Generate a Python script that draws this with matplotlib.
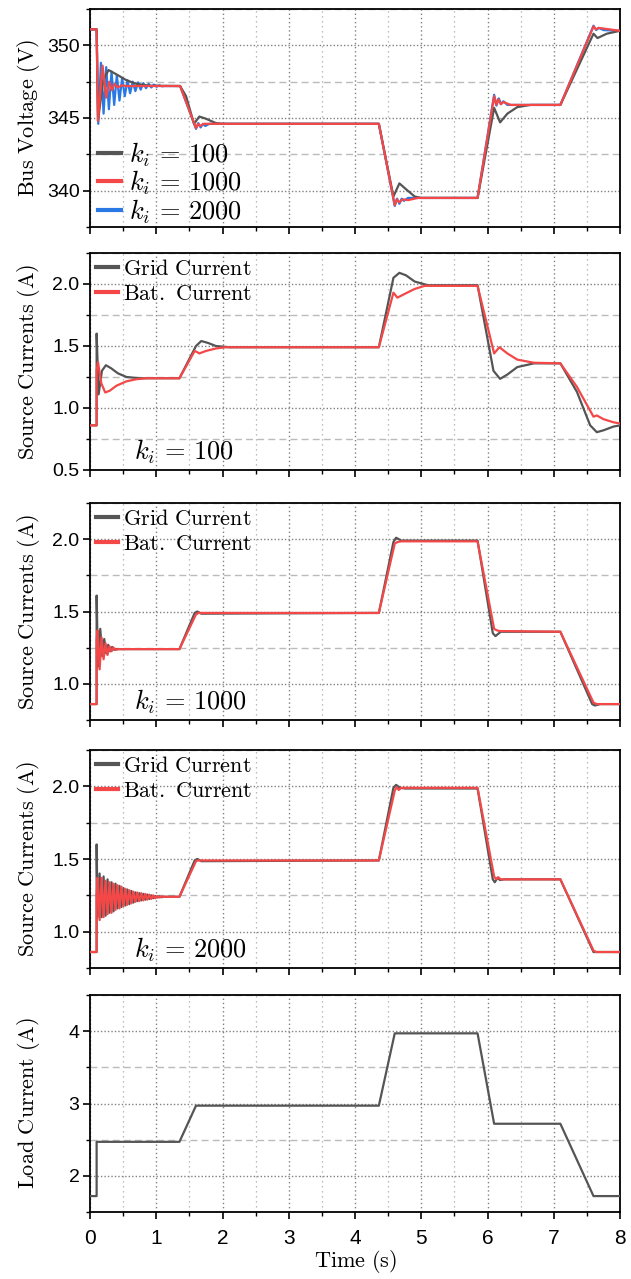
import numpy as np
import matplotlib
matplotlib.use("Agg")
import matplotlib.pyplot as plt
from matplotlib.ticker import MultipleLocator, FormatStrFormatter
from matplotlib.lines import Line2D

plt.rcParams['mathtext.fontset'] = 'cm'
plt.rcParams['font.family'] = ['Liberation Sans', 'DejaVu Sans']

# ---------------- data (time s, value) ----------------
# Bus voltage (V)
v_100 = [(0, 351.1), (0.1, 351.1), (0.12, 344.8), (0.2, 347.6), (0.28, 348.3), (0.4, 348.0),
         (0.55, 347.6), (0.7, 347.35), (0.9, 347.22), (1.36, 347.2), (1.45, 346.5), (1.57, 344.6),
         (1.65, 345.1), (1.75, 344.95), (1.9, 344.65), (2.0, 344.6), (4.36, 344.6), (4.58, 339.6),
         (4.67, 340.5), (4.77, 340.1), (4.9, 339.6), (5.0, 339.5), (5.85, 339.5), (6.1, 345.7),
         (6.19, 344.7), (6.3, 345.3), (6.45, 345.75), (6.65, 345.9), (7.1, 345.9), (7.6, 350.8),
         (7.66, 350.5), (7.8, 350.8), (8.0, 351.0)]
v_1000 = [(0, 351.1), (0.1, 351.1), (0.12, 344.8), (0.19, 348.6), (0.245, 346.4), (0.29, 347.5),
          (0.33, 346.9), (0.37, 347.35), (0.42, 347.1), (0.48, 347.25), (0.55, 347.2), (1.36, 347.2),
          (1.6, 344.3), (1.63, 344.6), (1.66, 344.45), (1.72, 344.6), (4.36, 344.6), (4.6, 339.0),
          (4.63, 339.4), (4.67, 339.2), (4.72, 339.4), (4.8, 339.35), (4.95, 339.5), (5.85, 339.5),
          (6.1, 346.5), (6.13, 345.9), (6.16, 346.3), (6.2, 345.95), (6.24, 346.1), (6.35, 345.9),
          (7.1, 345.9), (7.6, 351.3), (7.64, 351.1), (7.68, 351.2), (8.0, 351.0)]
v_2000 = [(0, 351.1), (0.1, 351.1), (0.125, 344.6), (0.165, 348.8), (0.205, 345.3), (0.245, 348.5),
          (0.285, 345.6), (0.325, 348.2), (0.365, 345.9), (0.405, 347.95), (0.445, 346.2),
          (0.485, 347.75), (0.525, 346.5), (0.565, 347.6), (0.605, 346.7), (0.645, 347.5),
          (0.685, 346.85), (0.725, 347.45), (0.765, 346.95), (0.805, 347.4), (0.845, 347.05),
          (0.885, 347.35), (0.925, 347.1), (0.965, 347.3), (1.005, 347.15), (1.045, 347.25),
          (1.085, 347.18), (1.13, 347.2), (1.36, 347.2), (1.6, 344.25), (1.635, 344.65),
          (1.67, 344.35), (1.705, 344.6), (1.74, 344.45), (1.8, 344.6), (4.36, 344.6), (4.6, 338.95),
          (4.635, 339.45), (4.67, 339.1), (4.705, 339.45), (4.74, 339.3), (4.8, 339.5), (5.85, 339.5),
          (6.1, 346.6), (6.135, 345.85), (6.17, 346.35), (6.205, 345.95), (6.24, 346.15), (6.3, 345.9),
          (7.1, 345.9), (7.6, 351.35), (7.64, 351.05), (7.68, 351.2), (7.75, 351.05), (8.0, 351.0)]

# Source currents (A), k_i = 100
grid_100 = [(0, 0.86), (0.1, 0.86), (0.1, 1.60), (0.13, 1.11), (0.18, 1.30), (0.24, 1.345),
            (0.32, 1.32), (0.42, 1.28), (0.55, 1.25), (0.75, 1.24), (1.35, 1.24), (1.6, 1.50),
            (1.68, 1.54), (1.78, 1.525), (1.9, 1.50), (2.1, 1.49), (4.36, 1.49), (4.58, 2.05),
            (4.67, 2.09), (4.77, 2.07), (4.9, 2.02), (5.1, 1.99), (5.85, 1.99), (6.09, 1.30),
            (6.19, 1.235), (6.3, 1.27), (6.45, 1.33), (6.7, 1.36), (7.1, 1.36), (7.35, 1.13),
            (7.55, 0.86), (7.65, 0.805), (7.75, 0.82), (7.9, 0.85), (8.0, 0.86)]
bat_100 = [(0, 0.86), (0.1, 0.86), (0.1, 1.30), (0.12, 1.37), (0.17, 1.20), (0.23, 1.125),
           (0.3, 1.14), (0.4, 1.18), (0.55, 1.215), (0.7, 1.232), (0.85, 1.24), (1.35, 1.24),
           (1.58, 1.46), (1.62, 1.45), (1.65, 1.44), (1.75, 1.46), (1.9, 1.48), (2.05, 1.49),
           (4.36, 1.49), (4.58, 1.93), (4.64, 1.89), (4.75, 1.92), (4.9, 1.96), (5.05, 1.985),
           (5.85, 1.985), (6.1, 1.44), (6.18, 1.49), (6.3, 1.44), (6.45, 1.39), (6.7, 1.365),
           (7.1, 1.36), (7.35, 1.17), (7.6, 0.93), (7.65, 0.94), (7.75, 0.91), (7.9, 0.885),
           (8.0, 0.875)]

# Source currents (A), k_i = 1000
grid_1000 = [(0, 0.86), (0.1, 0.86), (0.1, 1.61), (0.12, 1.12), (0.155, 1.38), (0.185, 1.19),
             (0.215, 1.31), (0.245, 1.21), (0.275, 1.27), (0.305, 1.225), (0.335, 1.255),
             (0.365, 1.235), (0.4, 1.24), (1.35, 1.24), (1.58, 1.49), (1.62, 1.50), (1.68, 1.485),
             (4.36, 1.49), (4.58, 1.98), (4.62, 2.01), (4.7, 1.99), (5.85, 1.99), (6.08, 1.35),
             (6.12, 1.33), (6.2, 1.36), (7.1, 1.36), (7.58, 0.86), (7.62, 0.85), (7.7, 0.86),
             (8.0, 0.86)]
bat_1000 = [(0, 0.86), (0.1, 0.86), (0.1, 1.30), (0.115, 1.37), (0.145, 1.10), (0.175, 1.32),
            (0.205, 1.17), (0.235, 1.28), (0.265, 1.20), (0.295, 1.26), (0.325, 1.225),
            (0.355, 1.25), (0.39, 1.235), (0.43, 1.24), (1.35, 1.24), (1.6, 1.48), (1.64, 1.49),
            (4.36, 1.49), (4.6, 1.97), (4.64, 1.98), (4.7, 1.985), (5.85, 1.985), (6.1, 1.38),
            (6.14, 1.37), (6.18, 1.365), (7.1, 1.36), (7.6, 0.87), (7.65, 0.86), (8.0, 0.86)]

# Source currents (A), k_i = 2000
grid_2000 = [(0, 0.86), (0.1, 0.86), (0.1, 1.60), (0.115, 1.10), (0.145, 1.40), (0.175, 1.10),
             (0.205, 1.38), (0.235, 1.11), (0.265, 1.36), (0.295, 1.13), (0.325, 1.34),
             (0.355, 1.14), (0.385, 1.33), (0.415, 1.16), (0.445, 1.315), (0.475, 1.17),
             (0.505, 1.30), (0.535, 1.18), (0.565, 1.29), (0.595, 1.19), (0.625, 1.28),
             (0.655, 1.20), (0.685, 1.27), (0.715, 1.21), (0.745, 1.265), (0.775, 1.215),
             (0.805, 1.26), (0.835, 1.22), (0.865, 1.255), (0.895, 1.225), (0.925, 1.25),
             (0.955, 1.23), (0.985, 1.245), (1.015, 1.235), (1.045, 1.243), (1.075, 1.237),
             (1.11, 1.24), (1.35, 1.24), (1.58, 1.49), (1.62, 1.50), (1.68, 1.485), (4.36, 1.49),
             (4.58, 1.99), (4.62, 2.01), (4.68, 1.99), (4.75, 1.985), (5.85, 1.985), (6.08, 1.36),
             (6.11, 1.34), (6.15, 1.37), (6.19, 1.355), (6.25, 1.36), (7.1, 1.36), (7.6, 0.86),
             (8.0, 0.86)]
bat_2000 = [(0, 0.86), (0.1, 0.86), (0.1, 1.25), (0.115, 1.37), (0.145, 1.08), (0.175, 1.37),
            (0.205, 1.10), (0.235, 1.35), (0.265, 1.12), (0.295, 1.34), (0.325, 1.13),
            (0.355, 1.33), (0.385, 1.15), (0.415, 1.32), (0.445, 1.16), (0.475, 1.31),
            (0.505, 1.175), (0.535, 1.295), (0.565, 1.185), (0.595, 1.285), (0.625, 1.195),
            (0.655, 1.275), (0.685, 1.205), (0.715, 1.27), (0.745, 1.21), (0.775, 1.265),
            (0.805, 1.215), (0.835, 1.26), (0.865, 1.22), (0.895, 1.255), (0.925, 1.225),
            (0.955, 1.25), (0.985, 1.23), (1.015, 1.245), (1.045, 1.235), (1.075, 1.243),
            (1.11, 1.24), (1.35, 1.24), (1.6, 1.485), (1.63, 1.49), (4.36, 1.49), (4.6, 1.97),
            (4.63, 1.995), (4.66, 1.975), (4.7, 1.99), (5.85, 1.99), (6.1, 1.38), (6.13, 1.36),
            (6.16, 1.375), (6.2, 1.36), (7.1, 1.36), (7.6, 0.87), (7.64, 0.86), (8.0, 0.86)]

# Load current (A)
load = [(0, 1.72), (0.1, 1.72), (0.1, 2.47), (1.35, 2.47), (1.6, 2.97), (4.36, 2.97),
        (4.6, 3.97), (5.85, 3.97), (6.1, 2.72), (7.1, 2.72), (7.6, 1.72), (8.0, 1.72)]

ki_labels = ['100', '1000', '2000']
curr_labels = ['Grid Current', 'Bat. Current']
ylabels = ['Bus Voltage (V)', 'Source Currents (A)', 'Source Currents (A)',
           'Source Currents (A)', 'Load Current (A)']
xticks = [0, 1, 2, 3, 4, 5, 6, 7, 8]

# ---------------- style ----------------
C_GRAY = '#555555'
C_RED = '#f44848'
C_BLUE = '#2a78e4'
LW = 1.6

W, H = 631, 1279
fig = plt.figure(figsize=(W / 100, H / 100), dpi=100)
rows_px = [(9, 227), (253, 470), (503, 720), (750, 968), (995, 1212)]
left_px, right_px = 90, 620
axes = []
for top, bot in rows_px:
    ax = fig.add_axes([left_px / W, 1 - bot / H, (right_px - left_px) / W, (bot - top) / H])
    axes.append(ax)


def xy(pairs):
    a = np.array(pairs, dtype=float)
    return a[:, 0], a[:, 1]


def style(ax, ylim, major, minor, fmt, show_x=False):
    ax.set_xlim(0, 8)
    ax.set_ylim(*ylim)
    ax.xaxis.set_major_locator(MultipleLocator(1))
    ax.xaxis.set_minor_locator(MultipleLocator(0.5))
    ax.yaxis.set_major_locator(MultipleLocator(major))
    ax.yaxis.set_minor_locator(MultipleLocator(minor))
    ax.yaxis.set_major_formatter(FormatStrFormatter(fmt))
    ax.grid(True, which='major', axis='x', linestyle=(0, (1, 2)), color='#808080', lw=1.0)
    ax.grid(True, which='minor', axis='x', linestyle=(0, (1, 3)), color='#a8a8a8', lw=0.9)
    ax.grid(True, which='major', axis='y', linestyle=(0, (1, 1.5)), color='#808080', lw=1.0)
    ax.grid(True, which='minor', axis='y', linestyle=(0, (5, 3)), color='#bbbbbb', lw=1.0)
    ax.set_axisbelow(True)
    ax.tick_params(which='major', direction='out', length=5, width=1.2, labelsize=14, pad=2.5)
    ax.tick_params(which='minor', direction='out', length=3, width=1.0)
    ax.tick_params(axis='x', labelbottom=show_x, pad=7, labelsize=15)
    for s in ax.spines.values():
        s.set_linewidth(1.3)


# Panel 1: bus voltage
ax = axes[0]
t, v = xy(v_2000); ax.plot(t, v, color=C_BLUE, lw=LW, zorder=2)
t, v = xy(v_100); ax.plot(t, v, color=C_GRAY, lw=LW, zorder=3)
t, v = xy(v_1000); ax.plot(t, v, color=C_RED, lw=LW, zorder=4)
style(ax, (337.5, 352.5), 5, 2.5, '%d')
handles = [Line2D([], [], color=c, lw=3) for c in (C_GRAY, C_RED, C_BLUE)]
ax.legend(handles, [r'$k_i\,=\,%s$' % k for k in ki_labels], loc='lower left',
          bbox_to_anchor=(0.012, 0.0), frameon=False, fontsize=19, handlelength=0.9,
          handletextpad=0.3, labelspacing=0.0, borderaxespad=0.0, borderpad=0.05)

# Panels 2-4: source currents
cur_sets = [(grid_100, bat_100), (grid_1000, bat_1000), (grid_2000, bat_2000)]
for i, (g, b) in enumerate(cur_sets):
    ax = axes[i + 1]
    t, v = xy(g); ax.plot(t, v, color=C_GRAY, lw=LW, zorder=3)
    t, v = xy(b); ax.plot(t, v, color=C_RED, lw=LW, zorder=4)
    if i == 0:
        style(ax, (0.5, 2.25), 0.5, 0.25, '%.1f')
    else:
        style(ax, (0.75, 2.25), 0.5, 0.25, '%.1f')
    handles = [Line2D([], [], color=c, lw=3) for c in (C_GRAY, C_RED)]
    ax.legend(handles, [r'$\mathrm{%s}$' % s.replace(' ', r'\ ') for s in curr_labels],
              loc='upper left', frameon=False, fontsize=16, handlelength=1.0,
              handletextpad=0.25, labelspacing=0.2, borderaxespad=0.0, borderpad=0.25)
    ax.text(0.083, 0.02, r'$k_i\,=\,%s$' % ki_labels[i], transform=ax.transAxes,
            fontsize=19, ha='left', va='bottom')

# Panel 5: load current
ax = axes[4]
t, v = xy(load); ax.plot(t, v, color=C_GRAY, lw=LW, zorder=3)
style(ax, (1.5, 4.5), 1, 0.5, '%d', show_x=True)
ax.set_xticks(xticks)
ax.set_xlabel(r'$\mathrm{Time\ (s)}$', fontsize=16, labelpad=0)

for ax, lab in zip(axes, ylabels):
    ax.set_ylabel(r'$\mathrm{%s}$' % lab.replace(' ', r'\ '), fontsize=16)
    ax.yaxis.set_label_coords(-0.09, 0.5)

fig.savefig('out.png', dpi=100)
